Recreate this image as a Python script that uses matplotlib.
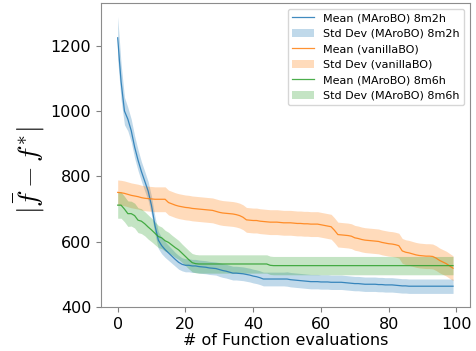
import matplotlib
matplotlib.use("Agg")
import matplotlib.pyplot as plt
import numpy as np

evals = list(range(100))

mean_8m2h = [1224, 1090, 1000, 975, 940, 890, 850, 815, 785, 755,
             710, 650, 605, 588, 576, 566, 556, 546, 537, 531,
             528, 528, 526, 526, 524, 523, 522, 520, 519, 518,
             515, 512, 510, 507, 504, 504, 503, 502, 500, 498,
             495, 493, 490, 486, 486, 486, 486, 486, 486, 486,
             486, 484, 483, 482, 481, 480, 479, 478, 478, 478,
             477, 477, 477, 476, 476, 476, 476, 475, 474, 473,
             472, 472, 471, 470, 470, 470, 470, 469, 469, 468,
             468, 468, 467, 466, 465, 465, 464, 464, 464, 464,
             464, 464, 464, 464, 464, 464, 464, 464, 464, 464]
std_8m2h = [65, 55, 42, 36, 35, 34, 32, 30, 30, 29,
            28, 27, 26, 25, 24, 23, 22, 21, 21, 20,
            20, 20, 20, 20, 20, 20, 20, 20, 20, 20,
            21, 21, 21, 21, 21, 21, 21, 21, 21, 21,
            21, 21, 21, 21, 21, 21, 21, 21, 21, 21,
            22, 22, 22, 22, 22, 22, 22, 22, 22, 22,
            22, 22, 22, 22, 22, 22, 22, 22, 22, 22,
            22, 22, 22, 22, 22, 22, 22, 22, 22, 22,
            22, 22, 22, 22, 22, 22, 22, 22, 22, 22,
            22, 22, 22, 22, 22, 22, 22, 22, 22, 22]

mean_vanilla = [751, 750, 748, 745, 742, 740, 738, 735, 733, 732,
                731, 730, 730, 730, 730, 720, 716, 712, 709, 707,
                705, 704, 702, 701, 700, 699, 698, 697, 696, 693,
                690, 688, 687, 686, 685, 683, 680, 675, 667, 666,
                665, 665, 663, 662, 661, 660, 660, 660, 659, 658,
                658, 658, 657, 656, 656, 655, 655, 654, 654, 654,
                652, 650, 648, 646, 635, 622, 621, 620, 619, 617,
                612, 610, 607, 605, 604, 603, 602, 601, 598, 596,
                594, 593, 591, 588, 572, 568, 566, 563, 560, 558,
                557, 556, 556, 555, 550, 543, 538, 533, 526, 519]
std_vanilla = [38] * 100

mean_8m6h = [712, 712, 700, 686, 686, 680, 666, 663, 655, 645,
             636, 626, 616, 612, 603, 598, 590, 582, 575, 565,
             555, 545, 536, 533, 532, 532, 532, 532, 532, 532,
             532, 532, 532, 532, 532, 532, 532, 532, 532, 532,
             532, 532, 532, 532, 532, 528, 527, 527, 527, 527,
             527, 527, 527, 527, 527, 527, 527, 527, 527, 527,
             527, 527, 527, 527, 527, 527, 527, 527, 527, 527,
             527, 527, 527, 527, 527, 527, 527, 527, 527, 527,
             527, 527, 527, 527, 527, 527, 527, 527, 527, 527,
             527, 527, 527, 527, 527, 527, 527, 527, 527, 527]
std_8m6h = [40, 40, 39, 39, 38, 38, 38, 38, 37, 37,
            36, 35, 34, 33, 32, 31, 30, 30, 29, 28,
            28, 28, 28, 28, 28, 28, 28, 28, 28, 28,
            28, 28, 28, 28, 28, 28, 28, 28, 28, 28,
            28, 28, 28, 28, 28, 28, 28, 28, 28, 28,
            28, 28, 28, 28, 28, 28, 28, 28, 28, 28,
            28, 28, 28, 28, 28, 28, 28, 28, 28, 28,
            28, 28, 28, 28, 28, 28, 28, 28, 28, 28,
            28, 28, 28, 28, 28, 28, 28, 28, 28, 28,
            28, 28, 28, 28, 28, 28, 28, 28, 28, 28]

series = [
    ("Mean (MAroBO) 8m2h", "Std Dev (MAroBO) 8m2h", mean_8m2h, std_8m2h, "#1f77b4"),
    ("Mean (vanillaBO)", "Std Dev (vanillaBO)", mean_vanilla, std_vanilla, "#ff7f0e"),
    ("Mean (MAroBO) 8m6h", "Std Dev (MAroBO) 8m6h", mean_8m6h, std_8m6h, "#2ca02c"),
]

plt.rcParams["mathtext.fontset"] = "cm"

fig = plt.figure(figsize=(4.76, 3.51), dpi=100)
ax = fig.add_axes([0.212, 0.125, 0.775, 0.866])
x = np.array(evals)
for lm, ls, m, s, c in series:
    m = np.array(m, dtype=float)
    s = np.array(s, dtype=float)
    ax.plot(x, m, color=c, lw=0.9, alpha=0.85, label=lm)
    ax.fill_between(x, m - s, m + s, color=c, alpha=0.28, lw=0, label=ls)

ax.set_ylim(400, 1330)
ax.set_xticks([0, 20, 40, 60, 80, 100])
ax.set_yticks([400, 600, 800, 1000, 1200])
ax.tick_params(labelsize=11.5, color="0.5")
for sp in ax.spines.values():
    sp.set_color("0.55")
ax.set_xlabel("# of Function evaluations", fontsize=11.5, labelpad=1)
ax.set_ylabel(r"$|\bar{f} - f^{*}|$", fontsize=20)
ax.yaxis.set_label_coords(-0.145, 0.45)
ax.legend(loc="upper right", fontsize=8)
fig.savefig("out.png", dpi=100)
